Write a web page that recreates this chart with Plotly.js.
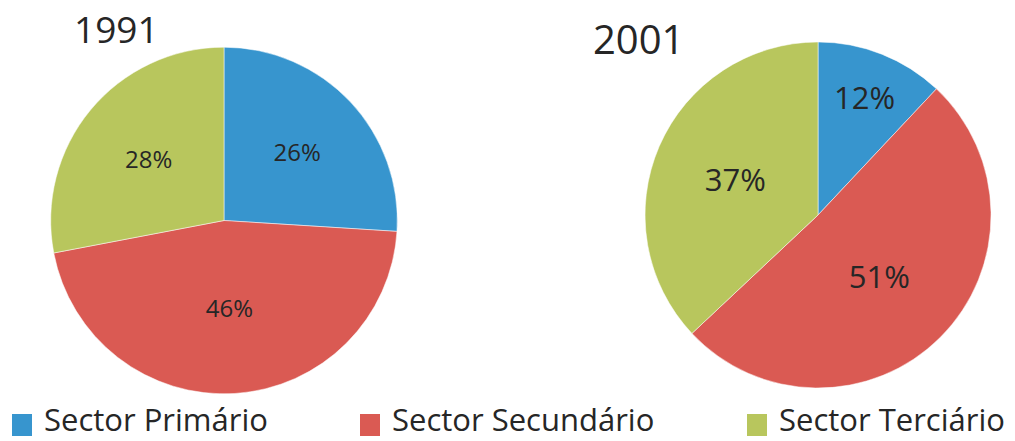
<!DOCTYPE html>
<html>
<head>
<meta charset="utf-8">
<script src="https://cdn.plot.ly/plotly-3.0.1.min.js"></script>
<style>html,body{margin:0;padding:0;background:#fff;}#chart{width:1015px;height:441px;}</style>
</head>
<body>
<div id="chart"></div>
<script>
const categories = ["Sector Primário", "Sector Secundário", "Sector Terciário"];
const years = ["1991", "2001"];
const values1991 = [26, 46, 28];
const values2001 = [12, 51, 37];
const colors = ["#3795CE", "#DA5A53", "#B8C65D"];

const textColor = "#262626";
const font = "Open Sans, Noto Sans, sans-serif";

const traces = [
  {
    type: "pie", name: years[0], labels: categories, values: values1991,
    sort: false, direction: "clockwise", rotation: 0,
    marker: {colors: colors, line: {color: "#ffffff", width: 0.5}},
    textinfo: "percent", textposition: "inside", insidetextorientation: "horizontal",
    textfont: {family: font, size: 24, color: textColor},
    domain: {x: [0.0473, 0.3941], y: [0.107, 0.893]},
    hoverinfo: "label+value+percent", showlegend: false
  },
  {
    type: "pie", name: years[1], labels: categories, values: values2001,
    sort: false, direction: "clockwise", rotation: 0,
    marker: {colors: colors, line: {color: "#ffffff", width: 0.5}},
    textinfo: "percent", textposition: "inside", insidetextorientation: "horizontal",
    textfont: {family: font, size: 31, color: textColor},
    domain: {x: [0.6355, 0.9764], y: [0.12, 0.905]},
    hoverinfo: "label+value+percent", showlegend: false
  }
];

const annotations = [
  {text: years[0], x: 116 / 1015, y: 1 - 28 / 441, xref: "paper", yref: "paper",
   xanchor: "center", yanchor: "middle", showarrow: false,
   font: {family: font, size: 37, color: textColor}},
  {text: years[1], x: 638 / 1015, y: 1 - 39 / 441, xref: "paper", yref: "paper",
   xanchor: "center", yanchor: "middle", showarrow: false,
   font: {family: font, size: 40, color: textColor}}
];

const legendX = [12, 360, 747];
const shapes = [];
categories.forEach((c, i) => {
  shapes.push({type: "rect", xref: "paper", yref: "paper",
    x0: legendX[i] / 1015, x1: (legendX[i] + 20) / 1015,
    y0: 1 - 436 / 441, y1: 1 - 414 / 441,
    fillcolor: colors[i], line: {width: 0}});
  annotations.push({text: c, x: (legendX[i] + 31) / 1015, y: 0,
    xref: "paper", yref: "paper", xanchor: "left", yanchor: "bottom",
    borderpad: 0, showarrow: false, font: {family: font, size: 31, color: textColor}});
});

const layout = {
  width: 1015, height: 441,
  margin: {l: 0, r: 0, t: 0, b: 0},
  paper_bgcolor: "#ffffff", plot_bgcolor: "#ffffff",
  showlegend: false,
  annotations: annotations,
  shapes: shapes
};

Plotly.newPlot("chart", traces, layout, {displayModeBar: false, staticPlot: true});
</script>
</body>
</html>
